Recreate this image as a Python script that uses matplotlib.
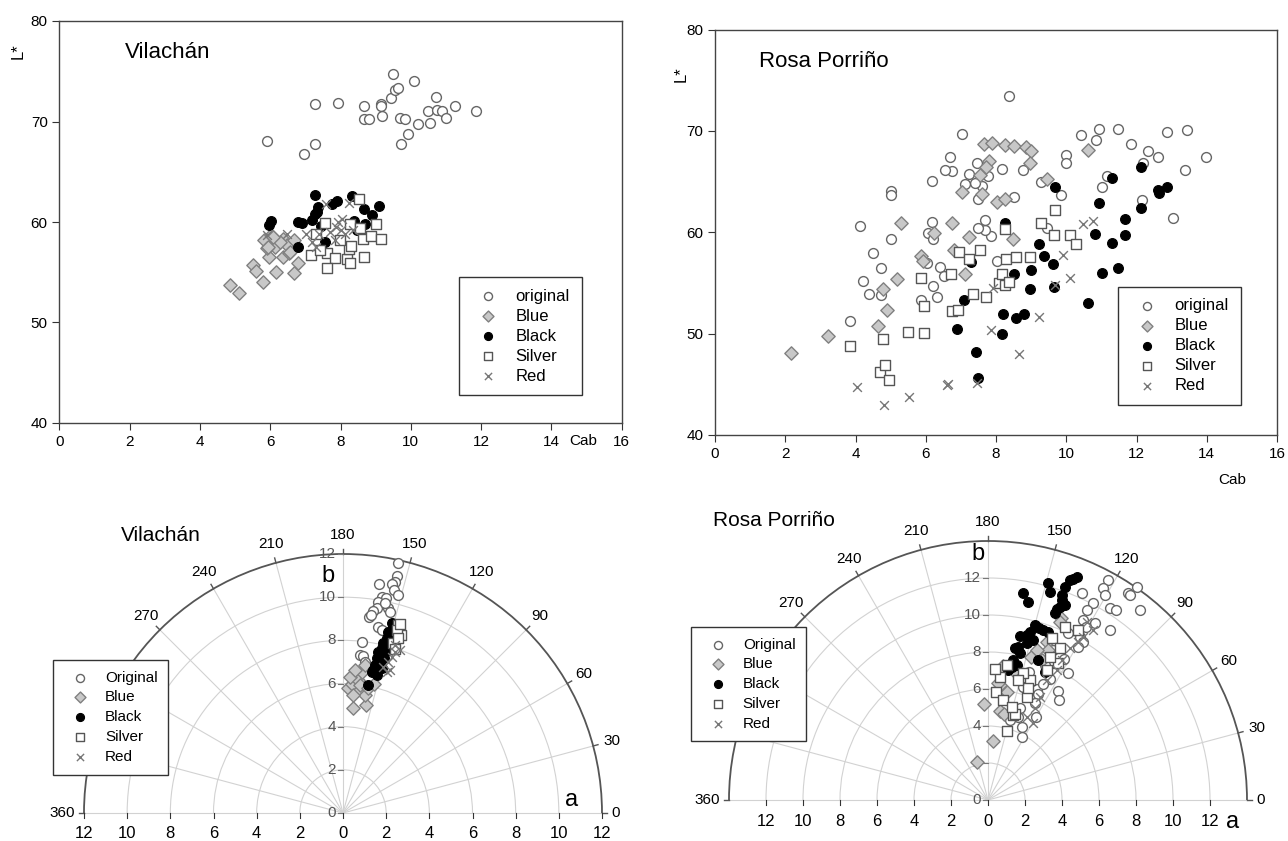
import numpy as np
import matplotlib.pyplot as plt
from matplotlib.patches import Arc

plt.rcParams["font.family"] = ["Liberation Sans", "DejaVu Sans"]

### Data: chroma (Cab) vs lightness (L*), top panels

vil_orig = [
    (5.90, 68.1), (7.28, 71.7), (7.92, 71.8), (6.95, 66.8), (7.28, 67.8),
    (8.66, 71.5), (8.68, 70.2), (8.82, 70.2), (9.14, 71.7), (9.15, 71.5),
    (9.18, 70.5), (9.45, 72.3), (9.50, 74.7), (9.54, 73.1), (9.64, 73.3),
    (9.68, 70.3), (9.71, 67.8), (9.85, 70.2), (9.92, 68.8), (10.10, 74.0),
    (10.21, 69.8), (10.50, 71.0), (10.55, 69.9), (10.71, 72.4), (10.76, 71.1),
    (10.88, 71.0), (10.99, 70.3), (11.25, 71.5), (11.86, 71.0),
]
vil_blue = [
    (4.85, 53.7), (5.12, 52.9), (5.50, 55.7), (5.60, 55.1), (5.78, 54.0),
    (5.82, 58.2), (5.96, 56.5), (6.02, 58.7), (6.16, 55.0), (6.13, 57.5),
    (6.37, 56.5), (6.37, 58.3), (6.48, 57.7), (6.69, 54.9), (6.69, 58.2),
    (6.78, 55.9), (6.54, 56.9), (5.90, 57.4), (6.28, 58.0), (6.09, 58.5),
    (5.94, 57.5), (6.56, 57.0),
]
vil_black = [
    (7.27, 62.7), (8.33, 62.6), (7.89, 62.1), (7.75, 61.8), (7.36, 61.5),
    (8.66, 61.3), (9.11, 61.6), (8.91, 60.7), (6.02, 60.1), (5.96, 59.7),
    (6.78, 60.0), (6.89, 59.9), (7.18, 60.2), (7.28, 60.8), (6.80, 57.5),
    (7.57, 58.0), (8.38, 60.1), (8.70, 59.8), (8.47, 59.2), (7.32, 61.0),
    (7.45, 59.6),
]
vil_silver = [
    (8.54, 62.3), (7.57, 59.9), (8.26, 59.8), (9.01, 59.8), (8.56, 59.4),
    (8.64, 58.3), (8.86, 58.6), (9.15, 58.3), (7.15, 56.7), (7.62, 56.9),
    (7.83, 56.4), (7.62, 55.4), (8.18, 56.3), (8.27, 55.9), (8.68, 56.5),
    (8.24, 57.3), (7.30, 58.8), (7.42, 57.2), (7.98, 58.2), (8.30, 57.6),
]
vil_red = [
    (8.24, 61.9), (7.59, 61.8), (7.01, 58.8), (7.18, 58.0), (7.39, 58.8),
    (7.94, 60.0), (8.00, 59.2), (7.83, 58.2), (8.12, 58.8), (8.35, 59.2),
    (7.88, 59.5), (7.30, 57.5), (5.90, 58.7), (6.48, 58.8), (8.05, 60.3),
    (7.70, 59.0),
]

ros_orig = [
    (8.38, 73.4), (7.04, 69.7), (10.42, 69.6), (10.93, 70.2), (11.46, 70.2),
    (12.86, 69.9), (13.45, 70.1), (10.86, 69.1), (11.83, 68.7), (9.98, 67.6),
    (9.99, 66.8), (12.32, 68.0), (12.61, 67.4), (12.18, 66.8), (13.99, 67.4),
    (13.37, 66.1), (11.16, 65.5), (11.03, 64.5), (12.17, 63.2), (13.03, 61.4),
    (9.85, 63.7), (9.28, 65.0), (9.44, 60.4), (8.78, 66.1), (8.51, 63.5),
    (8.16, 66.2), (8.03, 57.2), (7.85, 59.6), (7.68, 60.2), (7.68, 61.2),
    (7.50, 60.4), (7.77, 65.5), (7.46, 66.8), (7.61, 64.6), (7.41, 64.9),
    (7.49, 63.3), (7.22, 65.7), (7.11, 64.8), (6.69, 67.4), (6.76, 66.0),
    (6.55, 66.1), (6.17, 65.1), (6.19, 61.0), (6.06, 59.9), (6.21, 59.3),
    (6.04, 57.0), (6.40, 56.6), (6.53, 55.7), (6.22, 54.7), (6.31, 53.6),
    (5.87, 53.3), (5.00, 64.1), (5.00, 63.7), (5.00, 59.3), (4.14, 60.6),
    (4.50, 58.0), (4.74, 56.5), (4.21, 55.2), (4.38, 53.9), (4.73, 53.8),
    (3.85, 51.2),
]
ros_blue = [
    (2.17, 48.1), (3.23, 49.8), (4.64, 50.8), (4.91, 52.3), (4.77, 54.4),
    (5.19, 55.4), (5.29, 60.9), (5.86, 57.7), (5.92, 57.2), (6.23, 59.9),
    (6.75, 60.9), (6.81, 58.2), (7.12, 55.9), (7.23, 59.5), (7.03, 64.0),
    (7.54, 65.6), (7.61, 63.8), (7.67, 68.7), (7.88, 68.8), (7.81, 67.0),
    (7.71, 66.4), (8.03, 63.0), (8.25, 63.3), (8.25, 68.6), (8.50, 68.5),
    (8.49, 59.3), (8.84, 68.4), (9.01, 68.0), (8.97, 66.8), (9.46, 65.3),
    (10.63, 68.1),
]
ros_black = [
    (6.90, 50.5), (7.44, 48.2), (7.49, 45.6), (7.09, 53.3), (7.29, 57.1),
    (8.27, 60.9), (8.19, 51.9), (8.16, 50.0), (8.50, 55.9), (8.58, 51.5),
    (8.80, 51.9), (8.99, 56.3), (8.98, 54.4), (9.23, 58.8), (9.38, 57.7),
    (9.62, 56.9), (9.66, 54.6), (9.69, 64.5), (10.62, 53.0), (10.81, 59.8),
    (10.93, 62.9), (11.01, 56.0), (11.29, 65.4), (11.30, 58.9), (11.48, 56.5),
    (11.67, 61.3), (11.68, 59.7), (12.14, 62.4), (12.14, 66.4), (12.61, 64.2),
    (12.64, 63.9), (12.86, 64.5),
]
ros_silver = [
    (3.83, 48.8), (4.79, 49.5), (4.71, 46.2), (4.83, 46.9), (4.95, 45.4),
    (5.49, 50.2), (5.94, 50.1), (5.96, 52.7), (5.87, 55.5), (6.74, 52.2),
    (6.91, 52.3), (6.71, 55.9), (6.96, 58.1), (7.22, 57.4), (7.55, 58.2),
    (7.35, 53.9), (7.72, 53.6), (8.08, 55.0), (8.17, 55.9), (8.27, 54.8),
    (8.37, 55.1), (8.29, 57.4), (8.58, 57.6), (8.27, 60.3), (8.97, 57.6),
    (9.28, 60.9), (9.64, 59.7), (9.69, 62.2), (10.11, 59.7), (10.28, 58.8),
]
ros_red = [
    (4.05, 44.7), (4.81, 43.0), (5.52, 43.7), (6.61, 44.9), (7.45, 45.1),
    (7.86, 50.4), (8.65, 48.0), (9.23, 51.6), (7.92, 54.5), (9.91, 57.8),
    (10.11, 55.5), (10.49, 60.8), (10.75, 61.1), (9.69, 54.8), (6.62, 45.0),
]

### Data: a* / b* plane, bottom panels

vil_ab_orig = [
    (2.56, 11.56), (2.48, 10.99), (2.41, 10.71), (1.67, 10.59), (2.25, 10.59),
    (2.38, 10.32), (2.53, 10.12), (1.79, 10.02), (1.98, 9.94), (1.64, 9.78),
    (1.56, 9.48), (2.10, 9.48), (1.93, 9.71), (1.40, 9.35), (1.20, 9.09),
    (1.30, 9.17), (1.64, 8.63), (1.80, 8.50), (0.86, 7.90), (0.79, 7.31),
    (0.94, 7.26), (2.20, 9.30), (1.00, 7.00),
]
vil_ab_blue = [
    (0.48, 4.85), (1.05, 5.00), (1.02, 5.46), (0.63, 5.69), (0.25, 5.77),
    (0.40, 6.00), (0.71, 6.15), (0.33, 6.31), (0.86, 6.51), (0.56, 6.62),
    (1.02, 6.85), (0.79, 5.92), (1.17, 5.77), (0.48, 5.46), (1.44, 5.99),
]
vil_ab_black = [
    (2.25, 8.78), (2.33, 8.63), (2.10, 8.40), (2.02, 8.09), (1.87, 7.86),
    (1.79, 7.63), (1.64, 7.48), (1.56, 7.17), (1.48, 6.85), (1.40, 6.62),
    (1.33, 6.54), (1.95, 7.48), (1.71, 7.01), (2.10, 7.78), (2.25, 8.09),
    (1.14, 5.93), (1.79, 6.70), (1.56, 6.40), (2.16, 8.33), (1.88, 7.20),
]
vil_ab_silver = [
    (2.56, 8.70), (2.69, 8.27), (2.48, 8.48), (2.33, 7.86), (2.56, 8.09),
    (2.64, 8.77), (2.40, 7.60),
]
vil_ab_red = [
    (2.41, 7.47), (2.10, 7.01), (2.02, 6.54), (2.41, 7.78), (2.25, 7.24),
    (1.87, 6.78), (2.64, 7.56), (2.16, 6.64),
]

ros_ab_orig = [
    (6.50, 11.89), (6.23, 11.44), (7.59, 11.17), (8.04, 11.53), (6.32, 11.08),
    (6.59, 10.36), (6.92, 10.27), (8.21, 10.27), (5.69, 10.63), (5.33, 10.27),
    (5.06, 11.17), (6.59, 9.19), (5.15, 9.73), (5.78, 9.55), (4.97, 8.83),
    (5.15, 8.56), (4.88, 8.25), (4.34, 6.85), (3.80, 5.90), (3.35, 6.53),
    (2.63, 5.99), (2.72, 5.72), (2.54, 5.27), (1.73, 5.00), (1.64, 4.46),
    (1.82, 3.92), (2.99, 6.26), (2.27, 6.44), (7.66, 11.08), (4.31, 9.01),
    (5.31, 9.37), (3.82, 5.41), (1.85, 3.42), (2.20, 6.90), (1.90, 6.10),
    (3.10, 7.30), (2.60, 4.50), (3.50, 8.10), (4.10, 7.60), (1.20, 4.30),
]
ros_ab_blue = [
    (-0.58, 2.07), (0.25, 3.21), (-0.20, 5.19), (0.63, 6.22), (0.80, 7.24),
    (1.03, 5.82), (0.67, 4.83), (0.89, 4.65), (3.93, 9.86), (2.30, 7.75),
    (3.19, 8.56), (0.74, 7.21), (0.56, 6.31), (2.90, 7.57), (3.26, 8.11),
    (2.63, 8.11), (1.40, 7.00), (3.89, 9.64),
]
ros_ab_black = [
    (4.79, 12.07), (4.43, 11.89), (4.61, 11.93), (3.26, 11.75), (4.16, 11.53),
    (1.91, 11.17), (3.35, 11.26), (2.18, 10.72), (3.98, 11.08), (3.98, 10.81),
    (3.89, 10.45), (4.16, 10.54), (3.71, 10.31), (3.62, 10.09), (2.54, 9.46),
    (2.77, 9.28), (2.99, 9.19), (3.26, 9.10), (2.27, 9.10), (2.09, 8.92),
    (1.73, 8.86), (2.45, 8.65), (2.09, 8.47), (1.64, 8.29), (1.46, 8.20),
    (1.73, 7.93), (1.37, 7.57), (1.28, 7.21), (1.10, 7.03), (1.55, 7.30),
    (3.08, 6.94), (2.72, 7.57),
]
ros_ab_silver = [
    (0.43, 5.86), (0.65, 6.67), (1.03, 3.73), (1.37, 4.59), (1.46, 4.65),
    (0.83, 5.41), (2.09, 5.59), (2.27, 6.49), (2.18, 6.04), (1.91, 6.85),
    (3.44, 8.74), (3.89, 8.20), (3.80, 7.39), (4.16, 9.37), (4.88, 9.19),
    (3.35, 7.75), (3.17, 7.03), (1.64, 6.49), (1.28, 5.05), (0.40, 7.10),
    (1.00, 7.30),
]
ros_ab_red = [
    (5.69, 9.19), (4.88, 8.56), (4.43, 8.20), (3.98, 7.57), (3.71, 7.03),
    (3.17, 6.49), (2.81, 5.59), (2.54, 4.95), (2.45, 4.14), (2.09, 4.50),
    (5.33, 9.64), (5.15, 8.83),
]

top_labels = ["original", "Blue", "Black", "Silver", "Red"]
bottom_labels = ["Original", "Blue", "Black", "Silver", "Red"]
hue_labels = [0, 30, 60, 90, 120, 150, 180, 210, 240, 270, 360]

### Marker styles

styles = [
    dict(marker="o", s=50, facecolors="white", edgecolors="#666666", linewidths=1.0),
    dict(marker="D", s=46, facecolors="#c8c8c8", edgecolors="#808080", linewidths=1.0),
    dict(marker="o", s=50, facecolors="black", edgecolors="black", linewidths=0.8),
    dict(marker="s", s=50, facecolors="white", edgecolors="#555555", linewidths=1.0),
    dict(marker="x", s=40, color="#777777", linewidths=1.0),
]

W, H = 1288, 841
fig = plt.figure(figsize=(W / 100, H / 100), dpi=100)


def add_legend(ax, anchor, size, spacing):
    leg = ax.legend(loc="upper left", bbox_to_anchor=anchor, borderaxespad=0,
                    frameon=True, fancybox=False, framealpha=1,
                    edgecolor="#333333", fontsize=size, borderpad=0.7,
                    labelspacing=spacing, handlelength=2.1, handletextpad=0.6,
                    markerscale=0.82)
    leg.get_frame().set_linewidth(1.0)
    leg.set_zorder(20)


### Top panels: L* vs Cab

def cab_panel(px, groups, title, title_xy, lstar_xy, cab_xy, leg_anchor):
    x0, y0, x1, y1 = px
    ax = fig.add_axes([x0 / W, 1 - y1 / H, (x1 - x0) / W, (y1 - y0) / H])
    for pts, lab, st in zip(groups, top_labels, styles):
        x, y = np.array(pts).T
        ax.scatter(x, y, label=lab, zorder=3, **st)
    ax.set_xlim(0, 16)
    ax.set_ylim(40, 80)
    ax.set_xticks(range(0, 17, 2))
    ax.set_yticks(range(40, 81, 10))
    ax.tick_params(direction="out", length=5, width=0.8, color="#333333",
                   labelsize=11, top=False, right=False)
    for sp in ax.spines.values():
        sp.set_color("#444444")
        sp.set_linewidth(1.0)
    ax.text(*title_xy, title, transform=ax.transAxes, fontsize=16, va="center")
    ax.text(*lstar_xy, "L*", transform=ax.transAxes, fontsize=12,
            rotation=90, ha="center", va="center")
    ax.text(*cab_xy, "Cab", transform=ax.transAxes, fontsize=11,
            ha="center", va="center")
    add_legend(ax, leg_anchor, 12, 0.3)


cab_panel((59.5, 21, 621.5, 423),
          [vil_orig, vil_blue, vil_black, vil_silver, vil_red],
          "Vilachán", (0.117, 0.921), (-0.074, 0.925), (0.931, -0.045),
          (0.711, 0.363))
cab_panel((715, 29.5, 1277, 435),
          [ros_orig, ros_blue, ros_black, ros_silver, ros_red],
          "Rosa Porriño", (0.078, 0.92), (-0.06, 0.89), (0.92, -0.112),
          (0.717, 0.366))


### Bottom panels: a / b plane with hue angle scale

def hue_panel(x0, x1, cx, cy, rmax, rpx, groups, title, title_xy, a_xy,
              b_xy, leg_anchor):
    k = rpx / rmax  # pixels per unit
    ax = fig.add_axes([x0 / W, 0, (x1 - x0) / W, 341 / H])
    ax.set_xlim((x0 - cx) / k, (x1 - cx) / k)
    ax.set_ylim((cy - H) / k, (cy - 500) / k)
    ax.axis("off")

    grid = "#d2d2d2"
    for r in range(2, rmax, 2):
        ax.add_patch(Arc((0, 0), 2 * r, 2 * r, theta1=0, theta2=180,
                         ec=grid, lw=0.8, zorder=1))
    for deg in range(0, 181, 15):
        th = np.radians(deg)
        ax.plot([0, rmax * np.cos(th)], [0, rmax * np.sin(th)],
                color=grid, lw=0.8, zorder=1)
        ax.plot([rmax * np.cos(th), (rmax + 5 / k) * np.cos(th)],
                [rmax * np.sin(th), (rmax + 5 / k) * np.sin(th)],
                color="#555555", lw=1.0, zorder=2)
    ax.add_patch(Arc((0, 0), 2 * rmax, 2 * rmax, theta1=0, theta2=180,
                     ec="#555555", lw=1.3, zorder=2))

    for h in hue_labels:
        th = np.radians(h / 2)
        if h == 0:
            ax.text(rmax + 9 / k, 0, "0", ha="left", va="center", fontsize=11)
        elif h == 360:
            ax.text(-rmax - 9 / k, 0, "360", ha="right", va="center", fontsize=11)
        else:
            r = rmax + 19 / k
            ax.text(r * np.cos(th), r * np.sin(th), str(h), ha="center",
                    va="center", fontsize=11)

    for v in range(0, 13, 2):
        ax.plot([-5 / k, 0], [v, v], color="#777777", lw=0.8, zorder=2)
        ax.text(-7 / k, v, str(v), ha="right", va="center", fontsize=11,
                color="#555555", zorder=2)
    for v in range(-12, 13, 2):
        ax.plot([v, v], [0, -5 / k], color="#333333", lw=0.8)
        ax.text(v, -21 / k, str(abs(v)), ha="center", va="center", fontsize=12)

    for pts, lab, st in zip(groups, bottom_labels, styles):
        a, b = np.array(pts).T
        ax.scatter(a, b, label=lab, zorder=3, **st)

    ax.text(*title_xy, title, fontsize=15, va="center")
    ax.text(*a_xy, "a", fontsize=17, ha="center", va="center")
    ax.text(*b_xy, "b", fontsize=17, ha="center", va="center")
    add_legend(ax, leg_anchor, 11, 0.38)


hue_panel(0, 640, 343, 813, 12, 259,
          [vil_ab_orig, vil_ab_blue, vil_ab_black, vil_ab_silver, vil_ab_red],
          "Vilachán", (-10.28, 12.87), (10.6, 0.6), (-0.7, 11.0),
          (0.083, 0.531))
hue_panel(650, 1288, 988, 800, 14, 259,
          [ros_ab_orig, ros_ab_blue, ros_ab_black, ros_ab_silver, ros_ab_red],
          "Rosa Porriño", (-14.84, 15.1), (13.2, -1.2), (-0.54, 13.3),
          (0.064, 0.628))

fig.savefig("out.png", dpi=100)
